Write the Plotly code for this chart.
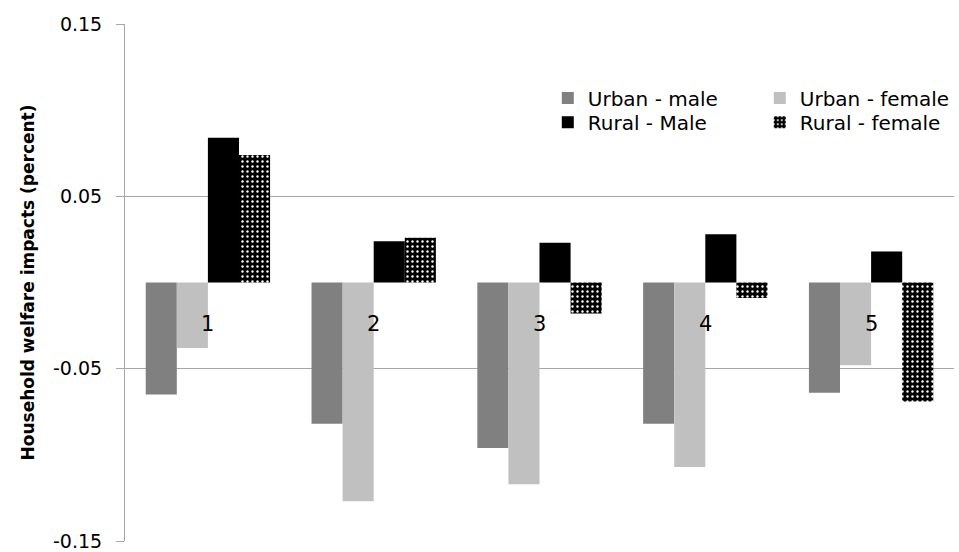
import plotly.graph_objects as go

# Household welfare impacts by group (percent)
categories = ["1", "2", "3", "4", "5"]
urban_male = [-0.065, -0.082, -0.096, -0.082, -0.064]
urban_female = [-0.038, -0.127, -0.117, -0.107, -0.048]
rural_male = [0.084, 0.024, 0.023, 0.028, 0.018]
rural_female = [0.074, 0.026, -0.018, -0.009, -0.069]

y_ticks = [0.15, 0.05, -0.05, -0.15]
y_tick_text = ["0.15", "0.05", "-0.05", "-0.15"]

FONT = "'DejaVu Sans', sans-serif"
x_pos = list(range(len(categories)))

fig = go.Figure()
# Two one-row legends: urban series on the first row, rural on the second
fig.add_bar(x=x_pos, y=urban_male, name="Urban - male",
            marker=dict(color="#808080", line=dict(width=0)), legend="legend")
fig.add_bar(x=x_pos, y=urban_female, name="Urban - female",
            marker=dict(color="#C0C0C0", line=dict(width=0)), legend="legend")
fig.add_bar(x=x_pos, y=rural_male, name="Rural - Male",
            marker=dict(color="#000000", line=dict(width=0)), legend="legend2")
fig.add_bar(x=x_pos, y=rural_female, name="Rural - female",
            marker=dict(color="#000000", line=dict(width=0),
                        pattern=dict(shape=".", fgcolor="white", bgcolor="black",
                                     fillmode="replace", size=5, solidity=0.18)),
            legend="legend2")

# Category labels sit just below the zero line
for xi, lab in zip(x_pos, categories):
    fig.add_annotation(x=xi, y=0, text=lab, showarrow=False, yanchor="middle",
                       yshift=-41, font=dict(family=FONT, size=21, color="#000000"))

legend_style = dict(font=dict(family=FONT, size=20, color="#000000"),
                    bgcolor="rgba(0,0,0,0)", itemwidth=30, tracegroupgap=0,
                    xanchor="left", yanchor="middle", orientation="h",
                    entrywidth=167, entrywidthmode="pixels",
                    traceorder="normal")

fig.update_layout(
    width=959, height=552,
    margin=dict(l=125, r=5, t=24, b=11, autoexpand=False),
    paper_bgcolor="white", plot_bgcolor="white",
    barmode="group", bargap=0.25, bargroupgap=0,
    showlegend=True,
    legend=dict(x=0.51, y=0.857, **legend_style),
    legend2=dict(x=0.51, y=0.81, **legend_style),
    xaxis=dict(range=[-0.5, 4.5], showticklabels=False, showgrid=False,
               zeroline=False, showline=False, ticks=""),
    yaxis=dict(range=[-0.15, 0.15], tickvals=y_ticks, ticktext=y_tick_text,
               showgrid=True, gridcolor="#A6A6A6", gridwidth=1,
               zeroline=False, showline=True, linecolor="#A6A6A6", linewidth=1,
               ticks="outside", ticklen=8, tickcolor="#A6A6A6",
               ticklabelstandoff=10,
               tickfont=dict(family=FONT, size=19, color="#000000"),
               title=dict(text="<b>Household welfare impacts (percent)</b>",
                          font=dict(family=FONT, size=17, color="#000000"),
                          standoff=14)),
)

fig.write_html("out.html")
